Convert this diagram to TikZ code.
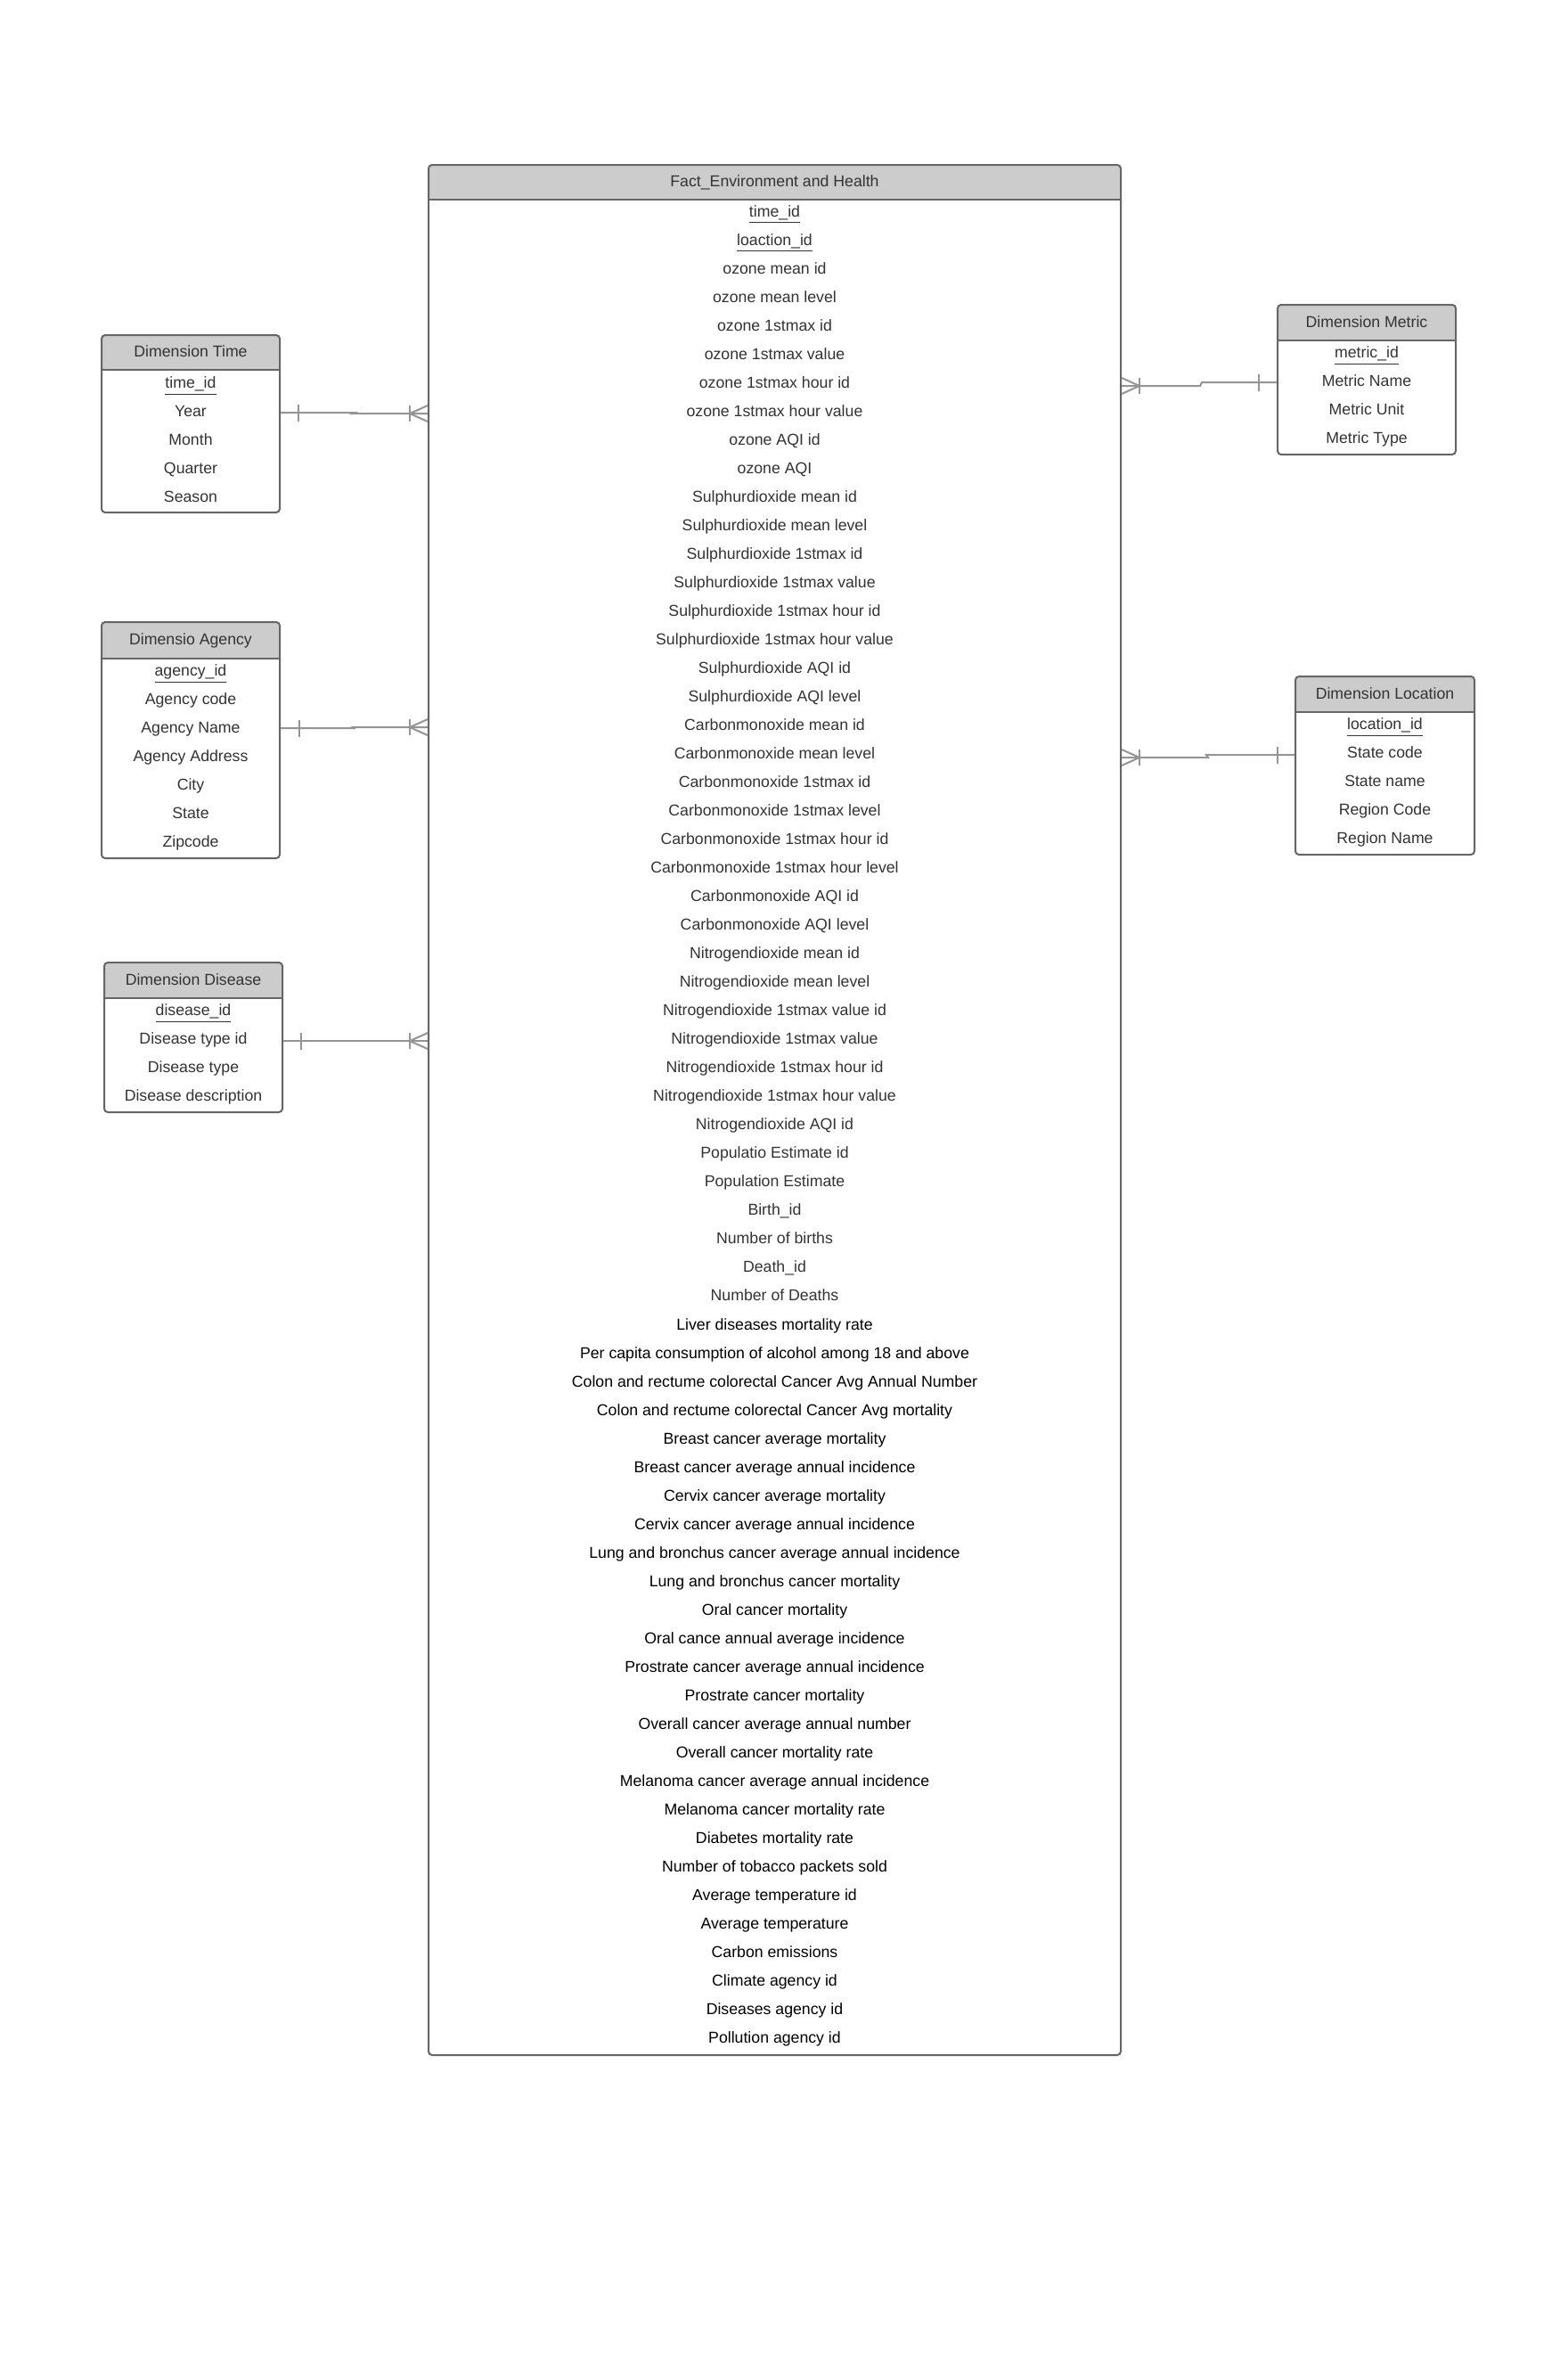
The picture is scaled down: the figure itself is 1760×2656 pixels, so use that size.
\documentclass[tikz,border=0pt]{standalone}
\usepackage{fontspec}
\setmainfont{Liberation Sans}
\usetikzlibrary{calc,fit}

\definecolor{hdrfill}{HTML}{CCCCCC}
\definecolor{boxline}{HTML}{666666}
\definecolor{txtgrey}{HTML}{333333}
\definecolor{linkgrey}{HTML}{959595}

\tikzset{
  field/.style={inner sep=0pt, text height=0.72em, text depth=0pt,
    font=\fontsize{8.85}{10.6}\selectfont, text=txtgrey},
  field black/.style={field, text=black},
  boxframe/.style={draw=boxline, line width=1pt, rounded corners=2pt, inner sep=0pt},
  link/.style={draw=linkgrey, line width=1pt},
}

\newcommand\rowpitch{32.02}

% #1 name, #2 left, #3 top, #4 header bottom, #5 right, #6 bottom,
% #7 title, #8 centre of first row, #9 list of rows
\newcommand\erEntity[9]{%
  \fill[hdrfill] (#2,#4) {[rounded corners=2pt] -- (#2,#3) -- (#5,#3)} -- (#5,#4) -- cycle;
  \coordinate (#1-nw) at (#2,#3);
  \coordinate (#1-se) at (#5,#6);
  \node[boxframe, fit=(#1-nw)(#1-se)] (#1) {};
  \draw[draw=boxline, line width=1pt] (#2,#4) -- (#5,#4);
  \node[field] (#1-title) at ({(#2+#5)/2},{(#3+#4)/2-2}) {#7};
  \foreach \rowtxt [count=\rowno from 1] in {#9}
    \node[field] (#1-\rowno) at ({(#2+#5)/2},{#8+(\rowno-1)*\rowpitch}) {\rowtxt};
}

% crow's foot (many) ending on the left / right border of the fact table
\newcommand\erCrowW[1]{%
  \draw[link] ($(#1)+(-20,-9)$) -- ($(#1)+(-20,9)$);
  \draw[link] ($(#1)+(0,-9)$) -- ($(#1)+(-20,0)$) -- ($(#1)+(0,9)$);
}
\newcommand\erCrowE[1]{%
  \draw[link] ($(#1)+(20,-9)$) -- ($(#1)+(20,9)$);
  \draw[link] ($(#1)+(0,-9)$) -- ($(#1)+(20,0)$) -- ($(#1)+(0,9)$);
}
% single bar (one) at a given point
\newcommand\erBar[1]{%
  \draw[link] ($(#1)+(0,-9.5)$) -- ($(#1)+(0,9.5)$);
}

\begin{document}
\begin{tikzpicture}[x=0.5pt, y=-0.5pt]
\useasboundingbox (0,0) rectangle (1760,2656);
\fill[white] (0,0) rectangle (1760,2656);

% ---------- fact table ----------
\erEntity{fact}{481}{185}{224}{1258}{2306}{Fact\_Environment and Health}{236}{%
  {\underline{time\_id}}, {\underline{loaction\_id}},
  ozone mean id, ozone mean level, ozone 1stmax id, ozone 1stmax value,
  ozone 1stmax hour id, ozone 1stmax hour value, ozone AQI id, ozone AQI,
  Sulphurdioxide mean id, Sulphurdioxide mean level, Sulphurdioxide 1stmax id,
  Sulphurdioxide 1stmax value, Sulphurdioxide 1stmax hour id,
  Sulphurdioxide 1stmax hour value, Sulphurdioxide AQI id, Sulphurdioxide AQI level,
  Carbonmonoxide mean id, Carbonmonoxide mean level, Carbonmonoxide 1stmax id,
  Carbonmonoxide 1stmax level, Carbonmonoxide 1stmax hour id,
  Carbonmonoxide 1stmax hour level, Carbonmonoxide AQI id, Carbonmonoxide AQI level,
  Nitrogendioxide mean id, Nitrogendioxide mean level, Nitrogendioxide 1stmax value id,
  Nitrogendioxide 1stmax value, Nitrogendioxide 1stmax hour id,
  Nitrogendioxide 1stmax hour value, Nitrogendioxide AQI id,
  Populatio Estimate id, Population Estimate, Birth\_id, Number of births,
  Death\_id, Number of Deaths}
\foreach \rowtxt [count=\rowno from 40] in {
  Liver diseases mortality rate,
  Per capita consumption of alcohol among 18 and above,
  Colon and rectume colorectal Cancer Avg Annual Number,
  Colon and rectume colorectal Cancer Avg mortality,
  Breast cancer average mortality, Breast cancer average annual incidence,
  Cervix cancer average mortality, Cervix cancer average annual incidence,
  Lung and bronchus cancer average annual incidence,
  Lung and bronchus cancer mortality, Oral cancer mortality,
  Oral cance annual average incidence, Prostrate cancer average annual incidence,
  Prostrate cancer mortality, Overall cancer average annual number,
  Overall cancer mortality rate, Melanoma cancer average annual incidence,
  Melanoma cancer mortality rate, Diabetes mortality rate,
  Number of tobacco packets sold, Average temperature id, Average temperature,
  Carbon emissions, Climate agency id, Diseases agency id, Pollution agency id}
  \node[field black] (fact-\rowno) at (869.5,{236+(\rowno-1)*\rowpitch}) {\rowtxt};

% ---------- dimension tables ----------
\erEntity{tim}{114}{376}{415}{314}{575}{Dimension Time}{428.5}{%
  {\underline{time\_id}}, Year, Month, Quarter, Season}
\erEntity{agy}{114}{698}{739}{314}{963}{Dimensio Agency}{751.5}{%
  {\underline{agency\_id}}, Agency code, Agency Name, Agency Address, City, State, Zipcode}
\erEntity{dis}{117}{1080}{1120}{317}{1248}{Dimension Disease}{1132.5}{%
  {\underline{disease\_id}}, Disease type id, Disease type, Disease description}
\erEntity{met}{1434}{342}{382}{1634}{510}{Dimension Metric}{394.5}{%
  {\underline{metric\_id}}, Metric Name, Metric Unit, Metric Type}
\erEntity{loc}{1454}{759}{799}{1655}{959}{Dimension Location}{811.5}{%
  {\underline{location\_id}}, State code, State name, Region Code, Region Name}

% ---------- relationships: one dimension row to many fact rows ----------
% time
\coordinate (tA) at ($(tim.east |- tim-2)+(0,2.5)$);
\coordinate (tB) at ($(fact.west |- tim-2)+(0,3.5)$);
\draw[link] (tA) -- ($(tA)+(83,0)$) -- ($(tB)+(-84,0)$) -- (tB);
\erBar{$(tA)+(20,0)$}
\erCrowW{tB}

% agency
\coordinate (aA) at ($(agy.east |- agy-3)+(0,1.5)$);
\coordinate (aB) at ($(fact.west |- agy-3)+(0,0.5)$);
\draw[link] (aA) -- ($(aA)+(82,0)$) -- ($(aB)+(-84,0)$) -- (aB);
\erBar{$(aA)+(21,0)$}
\erCrowW{aB}

% disease
\coordinate (dA) at ($(dis.east |- dis-2)+(0,3.5)$);
\coordinate (dB) at ($(fact.west |- dis-2)+(0,3.5)$);
\draw[link] (dA) -- (dB);
\erBar{$(dA)+(20,0)$}
\erCrowW{dB}

% metric
\coordinate (mA) at ($(met.west |- met-2)+(0,2.5)$);
\coordinate (mB) at ($(fact.east |- met-2)+(0,6.5)$);
\draw[link] (mA) -- ($(mA)+(-84,0)$) -- ($(mB)+(88,0)$) -- (mB);
\erBar{$(mA)+(-20,0)$}
\erCrowE{mB}

% location
\coordinate (lA) at ($(loc.west |- loc-2)+(0,3.5)$);
\coordinate (lB) at ($(fact.east |- loc-2)+(0,6.5)$);
\draw[link] (lA) -- ($(lA)+(-99,0)$) -- ($(lB)+(97,0)$) -- (lB);
\erBar{$(lA)+(-19,0)$}
\erCrowE{lB}
\end{tikzpicture}
\end{document}
